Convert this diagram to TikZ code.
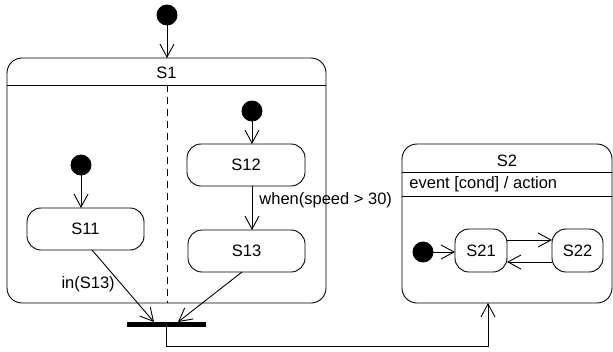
\documentclass[tikz,border=0pt]{standalone}
\usepackage{fontspec}
\setmainfont{Liberation Sans}
\usetikzlibrary{arrows.meta}
\begin{document}
\begin{tikzpicture}[x=1pt,y=-1pt,
  every node/.style={font=\fontsize{16.5}{19}\selectfont},
  line width=0.9pt,
  flow/.style={-{Straight Barb[length=13pt,width=14pt,line width=0.9pt]}},
  initdot/.style={circle,fill=black,draw=black,minimum size=20pt,inner sep=0pt,outer sep=0pt},
  statebox/.style={draw,rounded corners=14pt,inner sep=0pt,outer sep=0pt},
  region/.style={draw,rounded corners=15pt,inner sep=0pt,outer sep=0pt},
  joinbar/.style={fill=black,inner sep=0pt,outer sep=0pt,minimum width=79pt,minimum height=5pt},
  lane/.style={dash pattern=on 7pt off 5pt}]
\useasboundingbox (0,0) rectangle (613,351);

% composite state S1 with two concurrent regions
\node[region,minimum width=319pt,minimum height=245pt] (s1) at (166.5,180.5) {};
\node (s1t) at (166.5,73) {S1};
\coordinate (h1) at (0,85);
\draw (s1.west |- h1) -- (s1.east |- h1);
\coordinate (lt) at (167,85);
\coordinate (lb) at (167,303);
\draw[lane] (lt) -- (lb);

% top-level initial state
\node[initdot] (d0) at (167,15) {};
\draw[flow] (d0) -- (d0 |- s1.north);

% left region
\node[initdot] (d1) at (81,165) {};
\node[statebox,minimum width=117pt,minimum height=42pt] (s11) at (85.5,229) {S11};
\draw[flow] (d1) -- (d1 |- s11.north);

% right region
\node[initdot] (d2) at (252,111) {};
\node[statebox,minimum width=118pt,minimum height=42pt] (s12) at (246,165) {S12};
\node[statebox,minimum width=117pt,minimum height=42pt] (s13) at (246.5,251) {S13};
\draw[flow] (d2) -- (d2 |- s12.north);
\draw[flow] (s12.south -| d2) -- node[pos=0.33,anchor=west,inner sep=0pt,xshift=7pt] {when(speed > 30)} (s13.north -| d2);

% join bar
\node[joinbar] (bar) at (166.5,324.5) {};
\draw[flow] ([xshift=6.5pt]s11.south) -- node[pos=0.47,anchor=east,inner sep=0pt,xshift=-6pt] {in(S13)} ([xshift=-12.5pt]bar.north);
\draw[flow] ([xshift=-4.5pt]s13.south) -- ([xshift=11.5pt]bar.north);

% composite state S2
\node[region,minimum width=210pt,minimum height=159pt] (s2) at (507,223.5) {};
\node (s2t) at (507,161) {S2};
\coordinate (h2) at (0,172);
\coordinate (h3) at (0,196);
\draw (s2.west |- h2) -- (s2.east |- h2);
\draw (s2.west |- h3) -- (s2.east |- h3);
\node[anchor=west,inner sep=0pt] (s2a) at (409,184) {event [cond] / action};

\node[initdot] (d3) at (423,252) {};
\node[statebox,minimum width=52pt,minimum height=43pt] (s21) at (481,250.5) {S21};
\node[statebox,minimum width=51pt,minimum height=43pt] (s22) at (577.5,250.5) {S22};
\draw[flow] (d3) -- (d3 -| s21.west);
\draw[flow] ([yshift=10.5pt]s21.east) -- ([yshift=10.5pt]s21.east -| s22.west);
\draw[flow] ([yshift=-11.5pt]s22.west) -- ([yshift=-11.5pt]s22.west -| s21.east);

% join output into S2
\coordinate (k) at (488,346);
\draw[flow] (bar.south) |- (k) -- (k |- s2.south);
\end{tikzpicture}
\end{document}
